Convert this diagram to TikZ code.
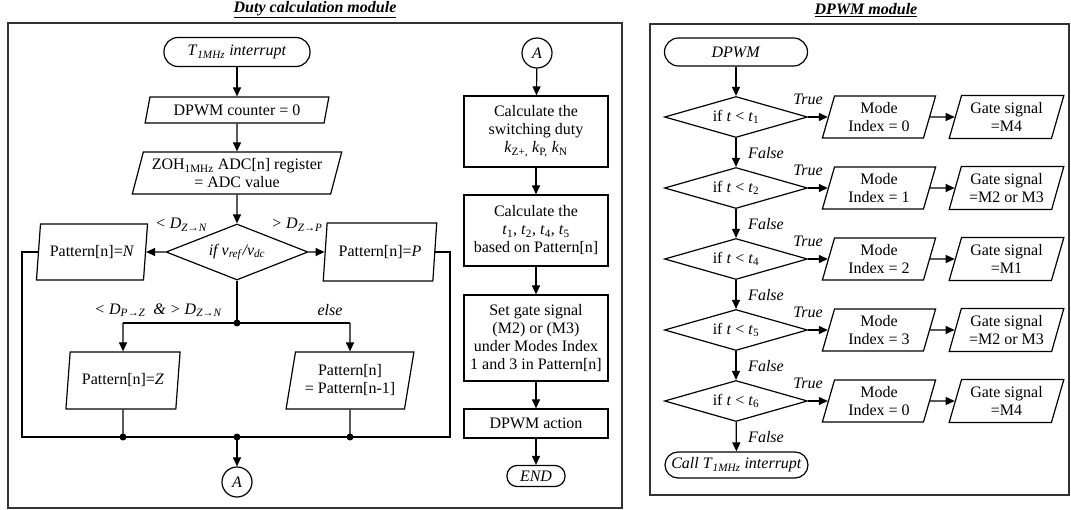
\documentclass[tikz,border=0pt]{standalone}
\usepackage{fontspec}
\setmainfont{Liberation Serif}
\usetikzlibrary{shapes.geometric,arrows.meta}
\begin{document}
\begin{tikzpicture}[x=1pt,y=-1pt,
  every node/.style={font=\fontsize{16}{18}\selectfont, align=center, inner sep=0pt},
  shp/.style={draw, line width=1.2pt},
  term/.style={shp, rectangle, rounded corners=12.5pt},
  para/.style={shp, trapezium, trapezium left angle=#1, trapezium right angle={180-#1}, trapezium stretches=true},
  box/.style={shp, rectangle, minimum width=144},
  conn/.style={shp, circle, minimum size=30},
  ln/.style={line width=1.2pt},
  arr/.style={line width=1.2pt, -{Triangle[length=9pt,width=8pt]}},
  lab/.style={font=\fontsize{16}{18}\selectfont\itshape},
  ttl/.style={font=\fontsize{16}{18}\selectfont\bfseries\itshape},
  frame/.style={draw=black!80, line width=1.4pt}
]
\useasboundingbox (0,0) rectangle (1071,510);
% frames and titles
\draw[frame] (8,23) rectangle (622,508);
\draw[frame] (650,24) rectangle (1069,495);
\node[ttl] (title1) at (315,10) {\underline{Duty calculation module}};
\node[ttl] (title2) at (866,10) {\underline{DPWM module}};

% ---- left flowchart ----
\node[term, minimum width=146, minimum height=29, rounded corners=14pt] (t1) at (237,52) {\textit{T}\textsubscript{\textit{1MHz}}\textit{ interrupt}};
\node[para=72, minimum width=184, minimum height=26] (cnt) at (237,110) {DPWM counter = 0};
\node[para=71, minimum width=210, minimum height=42] (zoh) at (237,173) {ZOH\textsubscript{1MHz} ADC[n] register\\= ADC value};
\node[shp, diamond, aspect=2.5, minimum width=142, minimum height=56] (dia) at (237,252) {\textit{if v}\textsubscript{\textit{ref}}\textit{/v}\textsubscript{\textit{dc}}};
\node[para=76, minimum width=112, minimum height=56] (pn) at (92,252) {Pattern[n]=\textit{N}};
\node[para=77, minimum width=114, minimum height=58] (pp) at (380,252) {Pattern[n]=\textit{P}};
\node[para=76, minimum width=115, minimum height=57] (pz) at (123,380.5) {Pattern[n]=\textit{Z}};
\node[para=76, minimum width=128, minimum height=57] (pm) at (350,380.5) {Pattern[n]\\= Pattern[n-1]};
\node[conn] (aL) at (237,482) {\textit{A}};

\node[lab] (l1) at (181,225) {< \textit{D}\textsubscript{\textit{Z}→\textit{N}}};
\node[lab] (l2) at (297,225) {> \textit{D}\textsubscript{\textit{Z}→\textit{P}}};
\node[lab] (l3) at (158,310) {< \textit{D}\textsubscript{\textit{P}→\textit{Z}}\ \ \& > \textit{D}\textsubscript{\textit{Z}→\textit{N}}};
\node[lab] (l4) at (330,310) {else};

\coordinate (j1) at (237,323);
\coordinate (jz) at (123,323);
\coordinate (jm) at (350,323);
\coordinate (bz) at (123,437);
\coordinate (bc) at (237,437);
\coordinate (bm) at (350,437);
\coordinate (cl) at (22,437);
\coordinate (cr) at (450,437);

\draw[arr] (t1) -- (cnt);
\draw[arr] (cnt) -- (zoh);
\draw[arr] (zoh) -- (dia);
\draw[arr] (dia) -- (pn);
\draw[arr] (dia) -- (pp);
\draw[ln] (dia.south) -- (j1);
\draw[ln] (jz) -- (jm);
\draw[arr] (jz) -- (pz.north);
\draw[arr] (jm) -- (pm.north);
\draw[ln] (pz.south) -- (bz);
\draw[ln] (pm.south) -- (bm);
\draw[ln] (pn.west) -| (cl) -- (cr) |- (pp.east);
\draw[arr] (bc) -- (aL);
\foreach \p in {j1,bz,bc,bm} \fill (\p) circle (3.5);

% ---- right column of left module ----
\node[conn] (aR) at (537,53) {\textit{A}};
\node[box, minimum height=71] (b1) at (536,131.5) {Calculate the\\switching duty\\\textit{k}\textsubscript{Z+,} \textit{k}\textsubscript{P,} \textit{k}\textsubscript{N}};
\node[box, minimum height=71] (b2) at (536,230.5) {Calculate the\\\textit{t}\textsubscript{1}, \textit{t}\textsubscript{2}, \textit{t}\textsubscript{4}, \textit{t}\textsubscript{5}\\based on Pattern[n]};
\node[box, minimum height=86] (b3) at (536,338) {Set gate signal\\(M2) or (M3)\\under Modes Index\\1 and 3 in Pattern[n]};
\node[box, minimum height=29] (b4) at (536,423.5) {DPWM action};
\node[term, minimum width=58, minimum height=21, rounded corners=10pt] (end) at (536,476) {\textit{END}};
\draw[arr] (aR) -- (b1);
\draw[arr] (b1) -- (b2);
\draw[arr] (b2) -- (b3);
\draw[arr] (b3) -- (b4);
\draw[arr] (b4) -- (end);

% ---- DPWM module ----
\node[term, minimum width=143, minimum height=28, rounded corners=14pt] (dp) at (736,52) {\textit{DPWM}};
\foreach \i/\y/\ts/\md/\gs in {1/117/1/0/{=M4}, 2/188/2/1/{=M2 or M3}, 3/259/4/2/{=M1}, 4/330/5/3/{=M2 or M3}, 5/401/6/0/{=M4}} {
  \node[shp, diamond, aspect=3.5, minimum width=143, minimum height=41] (d\i) at (736,\y) {if \textit{t} < \textit{t}\textsubscript{\ts}};
  \node[para=74, minimum width=114, minimum height=42] (m\i) at (879,\y) {Mode\\Index = \md};
  \node[para=71, minimum width=115, minimum height=43] (g\i) at (1006.5,\y) {Gate signal\\\gs};
  \node[lab] (tr\i) at (808,\y-18) {True};
  \node[lab] (fa\i) at (766,\y+36) {False};
  \draw[arr] (d\i) -- (m\i);
  \draw[arr] (m\i) -- (g\i);
}
\node[term, minimum width=143, minimum height=26, rounded corners=13pt] (call) at (736.5,465) {\textit{Call T}\textsubscript{\textit{1MHz}}\textit{ interrupt}};
\draw[arr] (dp) -- (d1);
\draw[arr] (d1) -- (d2);
\draw[arr] (d2) -- (d3);
\draw[arr] (d3) -- (d4);
\draw[arr] (d4) -- (d5);
\draw[arr] (d5) -- (call);
\end{tikzpicture}
\end{document}
